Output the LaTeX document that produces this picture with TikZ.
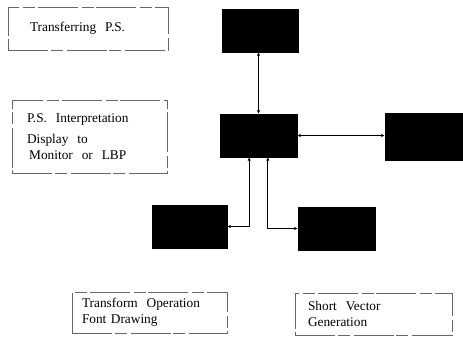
\documentclass[tikz,border=0pt]{standalone}
\usepackage{fontspec}
\setmainfont{Liberation Serif}
\usetikzlibrary{arrows.meta}

\tikzset{
  dbox/.style={draw=black!60, dash pattern=on 30pt off 2pt on 9pt off 3pt, line width=0.5pt,
    align=left, font=\fontsize{10}{12}\selectfont},
  blk/.style={fill=black, draw=black, inner sep=0pt},
  link/.style={line width=0.6pt, {Latex[length=2.5pt,width=2.5pt]}-{Latex[length=2.5pt,width=2.5pt]}}
}

\begin{document}
\begin{tikzpicture}[x=0.75pt,y=-0.75pt]
    \useasboundingbox (0,0) rectangle (463,338);

    \node[dbox, minimum height=32.25pt, inner xsep=16.5pt, text width=87pt] (trans) at (88,28.5) {Transferring\ \ P.S.};
    \node[dbox, minimum height=54.75pt, inner xsep=11.25pt, text width=93.75pt] (interp) at (89.5,136.5)
        {P.S.\ \ Interpretation\\[4pt]Display\ \ to\\\,Monitor\ \ or\ \ LBP};
    \node[dbox, minimum height=30.75pt, inner xsep=7.5pt, text width=101.25pt] (xform) at (149.5,312.5)
        {Transform\ \ Operation\\Font Drawing};
    \node[dbox, minimum height=31.5pt, inner xsep=9.75pt, text width=98.25pt] (svg) at (373.5,314)
        {Short\ \ Vector\\Generation};

    \node[blk, minimum width=57pt, minimum height=32.25pt] (top) at (260,30.5) {};
    \node[blk, minimum width=57.75pt, minimum height=32.25pt] (ctr) at (258.5,135.5) {};
    \node[blk, minimum width=58.5pt, minimum height=35.25pt] (right) at (424,136.5) {};
    \node[blk, minimum width=56.25pt, minimum height=32.25pt] (bl) at (189.5,226.5) {};
    \node[blk, minimum width=57.75pt, minimum height=32.25pt] (br) at (336.5,228.5) {};

    \draw[link] (ctr.north) -- (ctr.north |- top.south);
    \draw[link] (ctr.east) -- (ctr.east -| right.west);
    \draw[link] (bl.east) -| ([xshift=-7pt]ctr.south);
    \draw[link] ([xshift=7pt]ctr.south) |- (br.west);

\end{tikzpicture}
\end{document}
